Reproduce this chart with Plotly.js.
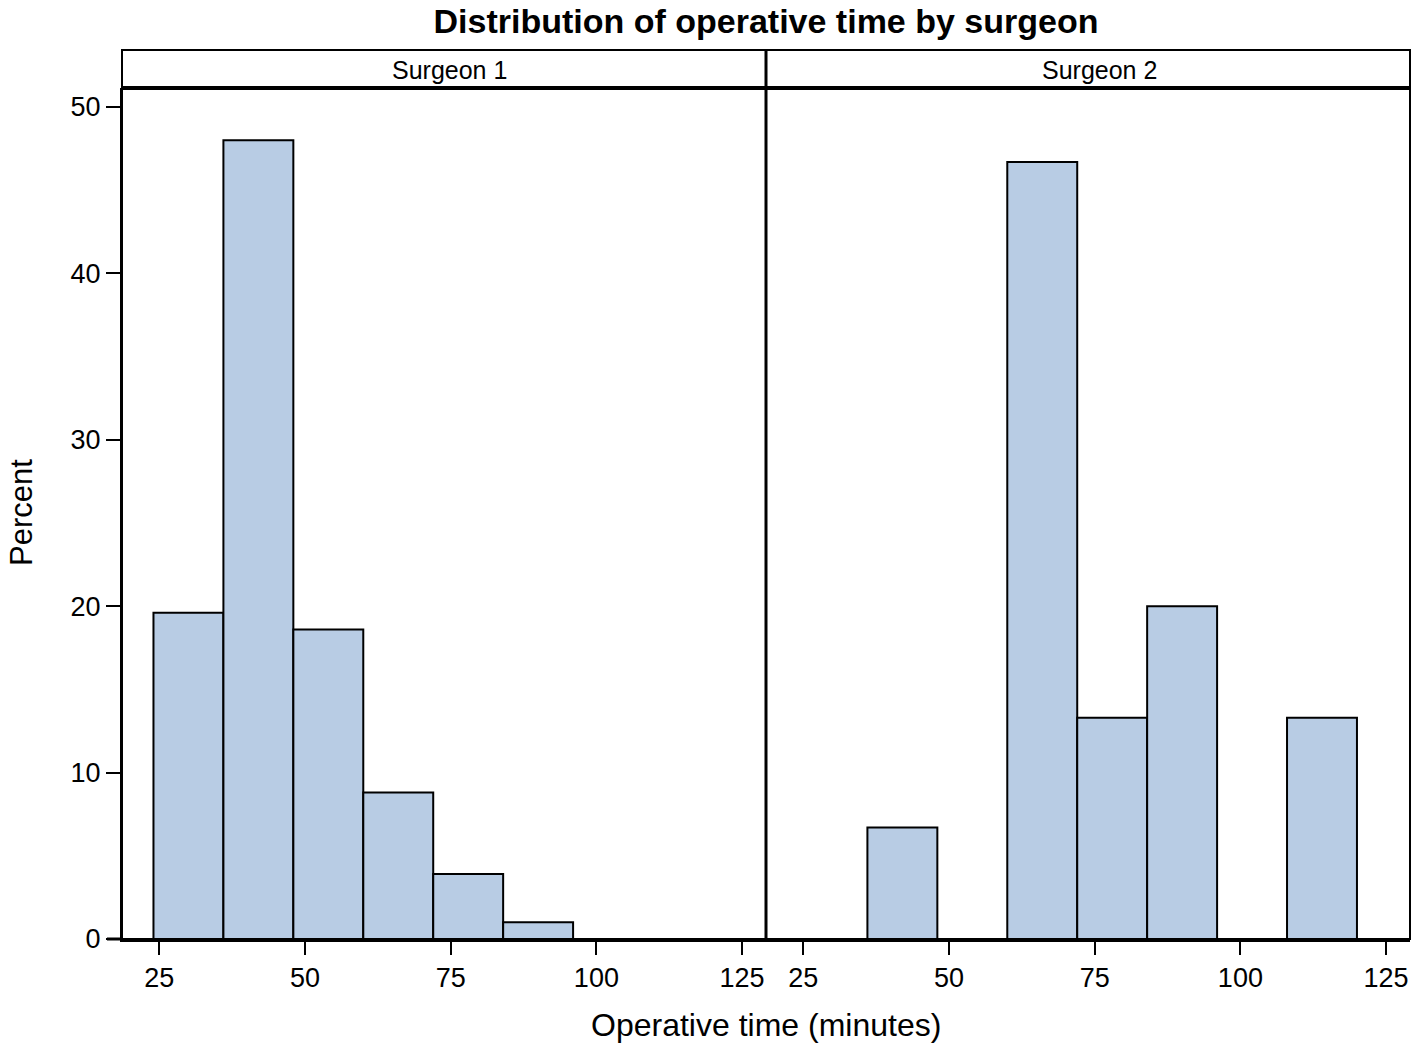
<!DOCTYPE html>
<html>
<head>
<meta charset="utf-8">
<script src="https://cdn.plot.ly/plotly-3.0.1.min.js"></script>
<style>html,body{margin:0;padding:0;background:#fff;}#chart{width:1418px;height:1044px;}</style>
</head>
<body>
<div id="chart"></div>
<script>
// Bin midpoints (minutes), bin width 12
const binCenters = [30, 42, 54, 66, 78, 90, 102, 114];
const binWidth = 12;
// Percent per bin
const surgeon1Pct = [19.6, 48.0, 18.6, 8.8, 3.9, 1.0, 0, 0];
const surgeon2Pct = [0, 6.7, 0, 46.7, 13.3, 20.0, 0, 13.3];
const panelLabels = ["Surgeon 1", "Surgeon 2"];
const xTicks = [25, 50, 75, 100, 125];
const yTicks = [0, 10, 20, 30, 40, 50];

const FONT = "Liberation Sans, Arial, Helvetica, sans-serif";
const barColor = "#b8cce4";

function barTrace(vals, xa) {
  return {
    type: "bar", x: binCenters, y: vals, width: binWidth, xaxis: xa, yaxis: "y",
    marker: {color: barColor, line: {color: "#000", width: 2}},
    hoverinfo: "x+y", showlegend: false
  };
}

const xCommon = {
  range: [18.6, 129.1], tickvals: xTicks, ticktext: xTicks.map(String),
  ticks: "outside", ticklen: 13, tickwidth: 2, tickcolor: "#000",
  showline: true, linecolor: "#000", linewidth: 3, showgrid: false, zeroline: false,
  tickfont: {family: FONT, size: 27, color: "#000"}, anchor: "y", fixedrange: true
};

const layout = {
  width: 1418, height: 1044,
  margin: {l: 122, r: 8, t: 88, b: 105},
  paper_bgcolor: "#fff", plot_bgcolor: "#fff",
  bargap: 0,
  title: {text: "<b>Distribution of operative time by surgeon</b>", font: {family: FONT, size: 34, color: "#000"},
          xref: "paper", x: 0.5, xanchor: "center", yref: "container", y: 1 - 21/1044, yanchor: "middle"},
  xaxis: Object.assign({}, xCommon, {domain: [0, 0.5]}),
  xaxis2: Object.assign({}, xCommon, {domain: [0.5, 1]}),
  yaxis: {
    range: [0, 51.14], tickvals: yTicks, ticktext: yTicks.map(String),
    ticks: "outside", ticklen: 14, tickwidth: 2, tickcolor: "#000",
    showline: true, linecolor: "#000", linewidth: 2, showgrid: false, zeroline: false,
    tickfont: {family: FONT, size: 27, color: "#000"}, anchor: "x", fixedrange: true
  },
  shapes: [
    {type: "rect", xref: "paper", yref: "paper", x0: 0, x1: 1, y0: 0, y1: 1 + 38/851, line: {color: "#000", width: 2}},
    {type: "line", xref: "paper", yref: "paper", x0: 0, x1: 1, y0: 1, y1: 1, line: {color: "#000", width: 4}},
    {type: "line", xref: "paper", yref: "paper", x0: 0.5, x1: 0.5, y0: 0, y1: 1 + 38/851, line: {color: "#000", width: 3}},
    {type: "line", xref: "paper", yref: "paper", x0: -15/1288, x1: 0, y0: 0, y1: 0, line: {color: "#000", width: 3}}
  ],
  annotations: [
    {text: panelLabels[0], xref: "paper", yref: "paper", x: (449-122)/1288, y: 1 + 18/851, xanchor: "center", yanchor: "middle",
     showarrow: false, font: {family: FONT, size: 25, color: "#000"}},
    {text: panelLabels[1], xref: "paper", yref: "paper", x: (1099-122)/1288, y: 1 + 18/851, xanchor: "center", yanchor: "middle",
     showarrow: false, font: {family: FONT, size: 25, color: "#000"}},
    {text: "Operative time (minutes)", xref: "paper", yref: "paper", x: 0.5, y: -(1025-939)/851, xanchor: "center", yanchor: "middle",
     showarrow: false, font: {family: FONT, size: 32, color: "#000"}},
    {text: "Percent", xref: "paper", yref: "paper", x: -(122-21)/1288, y: (939-513)/851, xanchor: "center", yanchor: "middle",
     textangle: -90, showarrow: false, font: {family: FONT, size: 31, color: "#000"}}
  ]
};

Plotly.newPlot("chart", [barTrace(surgeon1Pct, "x"), barTrace(surgeon2Pct, "x2")], layout, {displayModeBar: false, staticPlot: true});
</script>
</body>
</html>
